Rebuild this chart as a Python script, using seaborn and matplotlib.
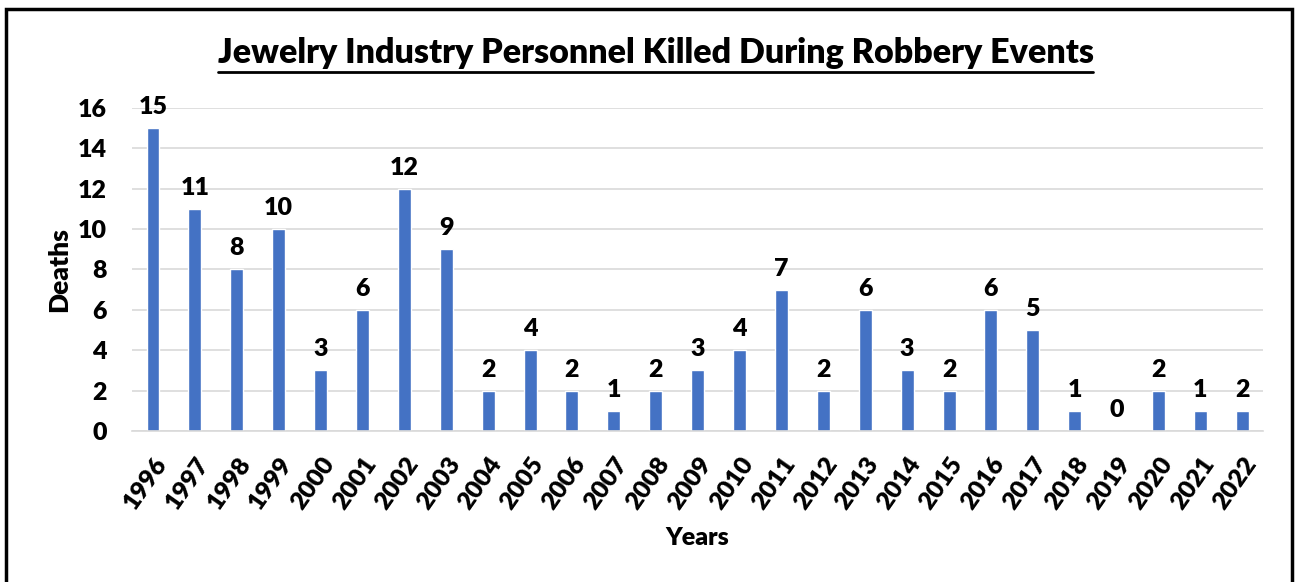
import matplotlib
matplotlib.use("Agg")
import matplotlib.pyplot as plt
from matplotlib.patches import Rectangle
import pandas as pd
import seaborn as sns

sns.set_theme(style="whitegrid")
plt.rcParams['font.family'] = ['Lato', 'DejaVu Sans']
plt.rcParams['text.color'] = 'black'
plt.rcParams['axes.labelcolor'] = 'black'
plt.rcParams['xtick.color'] = 'black'
plt.rcParams['ytick.color'] = 'black'

years = [str(y) for y in range(1996, 2023)]
deaths = [15, 11, 8, 10, 3, 6, 12, 9, 2, 4, 2, 1, 2, 3, 4, 7, 2, 6, 3, 2, 6, 5, 1, 0, 2, 1, 1]
# labels as printed on the chart (2022 label reads 2 though the bar is 1)
labels = [15, 11, 8, 10, 3, 6, 12, 9, 2, 4, 2, 1, 2, 3, 4, 7, 2, 6, 3, 2, 6, 5, 1, 0, 2, 1, 2]

df = pd.DataFrame({'Years': years, 'Deaths': deaths})

fig = plt.figure(figsize=(13.01, 5.82), dpi=100)
ax = fig.add_axes([0.1015, 0.2595, 0.8695, 0.555])

sns.barplot(data=df, x='Years', y='Deaths', color='#4472C4', width=0.31,
            saturation=1, ax=ax)

for i, (v, lab) in enumerate(zip(deaths, labels)):
    ax.text(i, v + 0.5, str(lab), ha='center', va='bottom',
            fontsize=18, fontweight='heavy', color='black')

ax.set_ylim(0, 16)
ax.set_yticks(range(0, 17, 2))
ax.set_xlim(-0.5, len(years) - 0.5)
ax.grid(axis='y', color='#d9d9d9', linewidth=1.2)
ax.grid(axis='x', visible=False)
for s in ['top', 'right', 'left']:
    ax.spines[s].set_visible(False)
ax.spines['bottom'].set_color('#d9d9d9')
ax.spines['bottom'].set_linewidth(1.2)

ax.tick_params(axis='y', labelsize=18, pad=18, length=0)
ax.tick_params(axis='x', labelsize=18, length=0, pad=16)
for t in ax.get_yticklabels():
    t.set_fontweight('heavy')
for t in ax.get_xticklabels():
    t.set_fontweight('heavy')
    t.set_rotation(55)
    t.set_ha('right')
    t.set_rotation_mode('anchor')

ax.set_xlabel('Years', fontsize=18, fontweight='heavy', labelpad=10)
ax.set_ylabel('Deaths', fontsize=19, fontweight='heavy', labelpad=5)

fig.text(655.5 / 1301, 1 - 53 / 582, 'Jewelry Industry Personnel Killed During Robbery Events',
         ha='center', va='center', fontsize=24.5, fontweight='heavy')
# underline of the title
fig.add_artist(plt.Line2D([218 / 1301, 1093 / 1301], [1 - 72 / 582, 1 - 72 / 582],
                          color='black', linewidth=2))

# outer frame
fig.add_artist(Rectangle((6 / 1301, -0.1), (1292 - 6) / 1301, 1.1 - 9 / 582,
                         fill=False, edgecolor='black', linewidth=2.5,
                         transform=fig.transFigure))

fig.savefig('out.png', dpi=100)
